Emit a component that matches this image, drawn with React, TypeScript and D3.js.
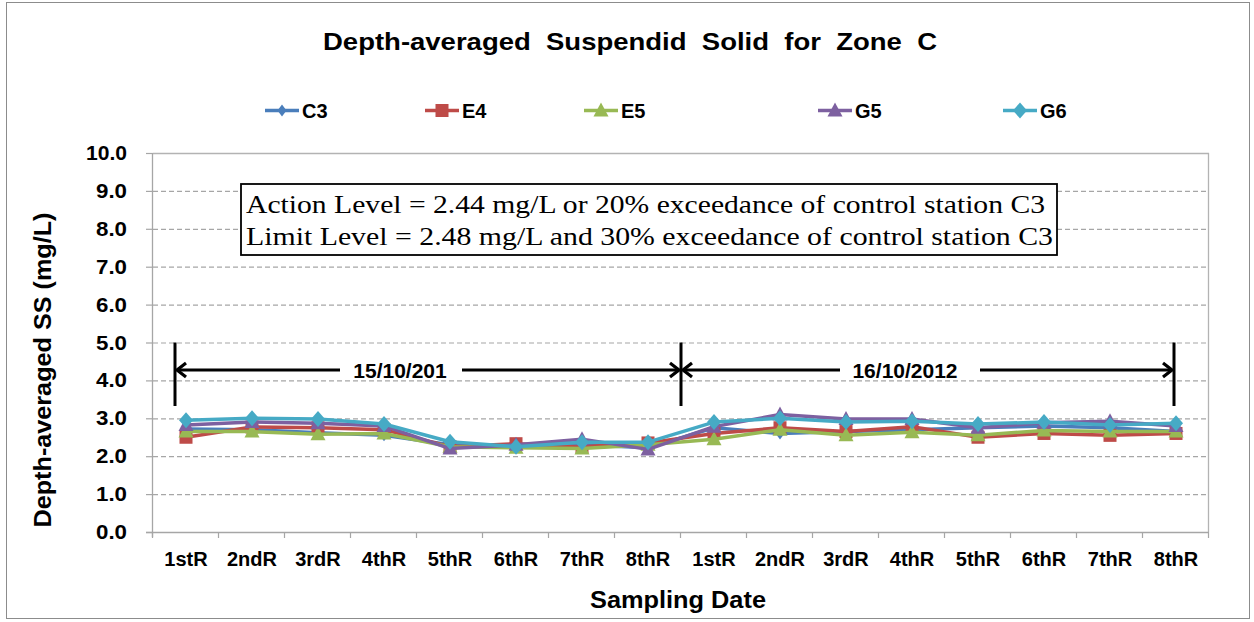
import React from "react";
import * as d3 from "d3";

const categories = ["1stR","2ndR","3rdR","4thR","5thR","6thR","7thR","8thR","1stR","2ndR","3rdR","4thR","5thR","6thR","7thR","8thR"];
const yTicks = [0,1,2,3,4,5,6,7,8,9,10];
const seriesNames = ["C3","E4","E5","G5","G6"];
const seriesColors = ["#4a7ebb","#be4b48","#98b954","#7d60a0","#46aac5"];
const seriesMarkers = ["diamondSmall","square","triangle","triangle","diamond"];
const C3 = [2.72,2.7,2.62,2.55,2.3,2.28,2.3,2.22,2.75,2.6,2.65,2.7,2.75,2.8,2.75,2.65];
const E4 = [2.5,2.77,2.75,2.7,2.25,2.33,2.25,2.35,2.6,2.75,2.65,2.78,2.5,2.6,2.55,2.6];
const E5 = [2.65,2.65,2.58,2.6,2.25,2.22,2.2,2.3,2.45,2.7,2.55,2.63,2.55,2.68,2.65,2.65];
const G5 = [2.82,2.9,2.87,2.8,2.2,2.3,2.45,2.18,2.78,3.1,2.98,2.98,2.75,2.88,2.92,2.8];
const G6 = [2.95,3.0,2.98,2.85,2.38,2.25,2.37,2.37,2.9,3.0,2.9,2.92,2.85,2.9,2.82,2.87];
const seriesValues = [C3,E4,E5,G5,G6];
const dateLabels = ["15/10/201","16/10/2012"];
const annotationLines = [
  "Action Level = 2.44 mg/L or 20% exceedance of control station C3",
  "Limit Level = 2.48 mg/L and 30% exceedance of control station C3",
];

const W = 1254, H = 622;
const PL = 153, PR = 1209, PT = 153, PB = 532;
const SANS = "'Liberation Sans', Arial, sans-serif";

function Marker({ kind, x, y, color }: { kind: string; x: number; y: number; color: string }) {
  if (kind === "square") return <rect x={x - 6.5} y={y - 6.5} width={13} height={13} fill={color} />;
  if (kind === "triangle") return <path d={`M${x},${y - 8}L${x + 7.5},${y + 6}L${x - 7.5},${y + 6}Z`} fill={color} />;
  if (kind === "diamond") return <path d={`M${x},${y - 8}L${x + 7},${y}L${x},${y + 8}L${x - 7},${y}Z`} fill={color} />;
  return <path d={`M${x},${y - 6}L${x + 4.5},${y}L${x},${y + 6}L${x - 4.5},${y}Z`} fill={color} />;
}

export default function App() {
  const x = d3.scaleBand<number>().domain(d3.range(categories.length)).range([PL, PR]).padding(0);
  const y = d3.scaleLinear().domain([0, 10]).range([PB, PT]);
  const cx = (i: number) => (x(i) as number) + x.bandwidth() / 2;
  const line = d3.line<number>().x((_, i) => cx(i)).y((v) => y(v));

  const arrowY = 370;
  const bars = [cx(0) - 11, (cx(7) + cx(8)) / 2, cx(15) - 2];
  const barTop = y(5), barBot = 406;
  const dateTextX = [400, 905];
  const gaps = [[340, 462], [840, 980]];

  const chev = (xx: number, dir: number) =>
    `M${xx + dir * 11},${arrowY - 7}L${xx + dir * 2},${arrowY}L${xx + dir * 11},${arrowY + 7}`;

  const legendX = [282, 442, 601, 835, 1020];

  return (
    <svg width={W} height={H} style={{ position: "absolute", left: 0, top: 0, background: "#fff" }} fontFamily={SANS}>
      <rect x={0} y={0} width={W} height={H} fill="#fff" />
      <rect x={6.5} y={2.5} width={1243} height={616} fill="none" stroke="#8c8c8c" strokeWidth={1} />

      {/* title */}
      <text x={323} y={50} fontSize={24} fontWeight="bold" textLength={614} lengthAdjust="spacingAndGlyphs" style={{ whiteSpace: "pre" }}>
        {"Depth-averaged  Suspendid  Solid  for  Zone  C"}
      </text>

      {/* legend */}
      {seriesNames.map((n, i) => (
        <g key={n}>
          <line x1={legendX[i] - 17} x2={legendX[i] + 17} y1={110.5} y2={110.5} stroke={seriesColors[i]} strokeWidth={3.5} />
          <Marker kind={seriesMarkers[i]} x={legendX[i]} y={110.5} color={seriesColors[i]} />
          <text x={legendX[i] + 20} y={118} fontSize={20} fontWeight="bold">{n}</text>
        </g>
      ))}

      {/* gridlines */}
      {yTicks.filter((t) => t > 0 && t < 10).map((t) => (
        <line key={t} x1={PL} x2={PR} y1={y(t) + 0.5} y2={y(t) + 0.5} stroke="#a6a6a6" strokeWidth={1.2} strokeDasharray="5,3" />
      ))}
      {/* plot border */}
      <line x1={PL} x2={PR} y1={PT + 0.5} y2={PT + 0.5} stroke="#b3b3b3" strokeWidth={1.3} />
      <line x1={PR - 0.5} x2={PR - 0.5} y1={PT} y2={PB} stroke="#b3b3b3" strokeWidth={1.3} />
      <line x1={PL - 0.5} x2={PL - 0.5} y1={PT} y2={PB + 5} stroke="#a6a6a6" strokeWidth={1.3} />
      <line x1={PL - 7} x2={PR} y1={PB + 0.5} y2={PB + 0.5} stroke="#a6a6a6" strokeWidth={1.3} />

      {/* y ticks */}
      {yTicks.map((t) => (
        <g key={t}>
          <line x1={PL - 7} x2={PL} y1={y(t) + 0.5} y2={y(t) + 0.5} stroke="#a6a6a6" strokeWidth={1.2} />
          <text x={127} y={y(t) + 7} fontSize={19.5} fontWeight="bold" textAnchor="end"
            textLength={t === 10 ? 41 : 31} lengthAdjust="spacingAndGlyphs">
            {t.toFixed(1)}
          </text>
        </g>
      ))}

      {/* x ticks */}
      {d3.range(categories.length + 1).map((i) => {
        const xx = PL + i * x.bandwidth();
        return <line key={i} x1={xx - 0.5} x2={xx - 0.5} y1={PB} y2={PB + 6} stroke="#a6a6a6" strokeWidth={1.2} />;
      })}
      {categories.map((c, i) => (
        <text key={i} x={cx(i)} y={566} fontSize={20} fontWeight="bold" textAnchor="middle">{c}</text>
      ))}

      {/* axis titles */}
      <text x={678} y={608} fontSize={23} fontWeight="bold" textAnchor="middle" textLength={176} lengthAdjust="spacingAndGlyphs">
        Sampling Date
      </text>
      <text transform="translate(51,370) rotate(-90)" fontSize={23.5} fontWeight="bold" textAnchor="middle" textLength={315} lengthAdjust="spacingAndGlyphs">
        Depth-averaged SS (mg/L)
      </text>

      {/* annotation box */}
      <rect x={241} y={184} width={816} height={71} fill="#fff" stroke="#000" strokeWidth={1.8} />
      <text x={246} y={213} fontSize={26} fontFamily="'Liberation Serif', 'Times New Roman', serif" textLength={799} lengthAdjust="spacingAndGlyphs">
        {annotationLines[0]}
      </text>
      <text x={246} y={245} fontSize={26} fontFamily="'Liberation Serif', 'Times New Roman', serif" textLength={807} lengthAdjust="spacingAndGlyphs">
        {annotationLines[1]}
      </text>

      {/* date arrows */}
      {bars.map((b, i) => (
        <line key={i} x1={b} x2={b} y1={barTop} y2={barBot} stroke="#000" strokeWidth={3} />
      ))}
      {[0, 1].map((k) => (
        <g key={k} stroke="#000" strokeWidth={3.2} fill="none">
          <line x1={bars[k] + 2} x2={gaps[k][0]} y1={arrowY} y2={arrowY} />
          <line x1={gaps[k][1]} x2={bars[k + 1] - 2} y1={arrowY} y2={arrowY} />
          <path d={chev(bars[k], 1)} />
          <path d={chev(bars[k + 1], -1)} />
        </g>
      ))}
      {dateLabels.map((d, k) => (
        <text key={k} x={dateTextX[k]} y={378} fontSize={21} fontWeight="bold" textAnchor="middle">{d}</text>
      ))}

      {/* series */}
      {seriesValues.map((vals, si) => (
        <g key={si}>
          <path d={line(vals) || ""} fill="none" stroke={seriesColors[si]} strokeWidth={3.5} strokeLinejoin="round" />
          {vals.map((v, i) => (
            <Marker key={i} kind={seriesMarkers[si]} x={cx(i)} y={y(v)} color={seriesColors[si]} />
          ))}
        </g>
      ))}
    </svg>
  );
}
